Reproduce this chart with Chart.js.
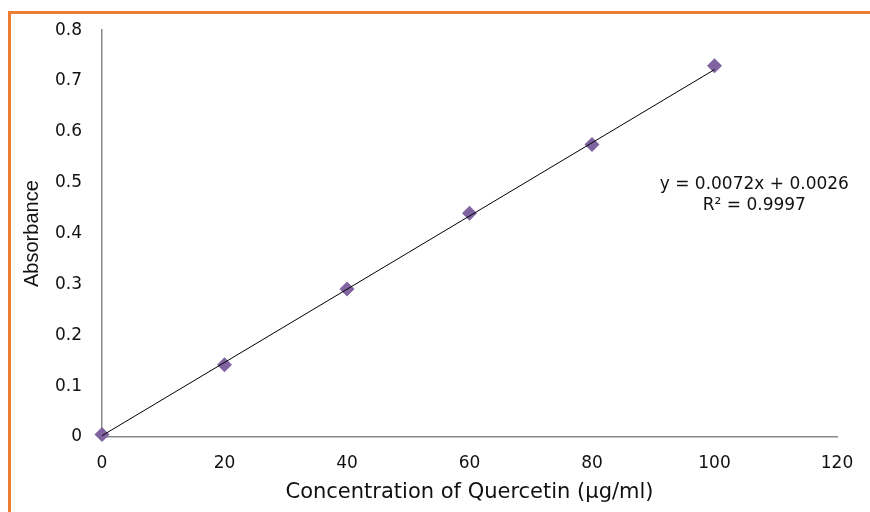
<!DOCTYPE html>
<html lang="en">
<head>
    <meta charset="UTF-8">
    <title>Quercetin Calibration Curve</title>
    <script src="https://cdn.jsdelivr.net/npm/chart.js"></script>
    <style>
        html, body {
            margin: 0;
            padding: 0;
            background: #fff;
        }
        .frame {
            position: relative;
            width: 870px;
            height: 512px;
            overflow: hidden;
        }
        .frame::before {
            content: '';
            position: absolute;
            left: 8px;
            top: 11px;
            right: -10px;
            bottom: -10px;
            border-top: 3px solid #ED7D31;
            border-left: 3px solid #ED7D31;
        }
        canvas {
            position: absolute;
            left: 0;
            top: 0;
        }
    </style>
</head>
<body>
    <div class="frame">
        <canvas id="calChart" width="870" height="512"></canvas>
    </div>

    <script>
        // Data
        const concentrations = [0, 20, 40, 60, 80, 100];
        const absorbances = [0.005, 0.142, 0.291, 0.440, 0.575, 0.730];

        // Linear trendline ends (y = 0.0072x + 0.0026)
        const trendX = [0, 100];
        const trendY = [0.0026, 0.7226];

        const equationLines = ['y = 0.0072x + 0.0026', 'R\u00B2 = 0.9997'];

        const xTitle = 'Concentration of Quercetin (\u00B5g/ml)';
        const yTitle = 'Absorbance';

        const tickFont = { family: 'DejaVu Sans', size: 17 };

        // Writes the regression equation next to the line
        const equationPlugin = {
            id: 'equation',
            afterDatasetsDraw(chart) {
                const { ctx, scales } = chart;
                const cx = scales.x.getPixelForValue(106.5);
                const cy = scales.y.getPixelForValue(0.497);
                ctx.save();
                ctx.font = '17px "DejaVu Sans"';
                ctx.fillStyle = '#111';
                ctx.textAlign = 'center';
                ctx.textBaseline = 'middle';
                equationLines.forEach((line, i) => ctx.fillText(line, cx, cy + i * 21));
                ctx.restore();
            }
        };

        const ctx = document.getElementById('calChart').getContext('2d');
        new Chart(ctx, {
            type: 'scatter',
            data: {
                datasets: [
                    {
                        label: 'Trendline',
                        data: trendX.map((x, i) => ({ x, y: trendY[i] })),
                        showLine: true,
                        borderColor: '#000',
                        borderWidth: 1,
                        pointRadius: 0,
                        clip: false
                    },
                    {
                        label: 'Absorbance',
                        data: concentrations.map((x, i) => ({ x, y: absorbances[i] })),
                        pointStyle: 'rectRot',
                        pointRadius: 7.5,
                        backgroundColor: '#8064A2',
                        borderColor: '#8064A2',
                        borderWidth: 0,
                        clip: false
                    }
                ]
            },
            options: {
                responsive: false,
                animation: false,
                layout: {
                    padding: { top: 29, right: 33, left: 0, bottom: 0 }
                },
                plugins: {
                    legend: { display: false },
                    tooltip: { enabled: false }
                },
                scales: {
                    x: {
                        type: 'linear',
                        min: 0,
                        max: 120,
                        ticks: { stepSize: 20, color: '#111', font: tickFont, padding: 16 },
                        grid: { display: false, drawTicks: false },
                        border: { color: '#8a8a8a', width: 1.5 },
                        title: {
                            display: true,
                            text: xTitle,
                            color: '#111',
                            font: { family: 'DejaVu Sans', size: 21 },
                            padding: { top: 0, bottom: 7 }
                        },
                        afterFit(scale) { scale.height = 75; }
                    },
                    y: {
                        type: 'linear',
                        min: 0,
                        max: 0.8,
                        ticks: { stepSize: 0.1, color: '#111', font: tickFont, padding: 20 },
                        grid: { display: false, drawTicks: false },
                        border: { color: '#8a8a8a', width: 1.5 },
                        title: {
                            display: true,
                            text: yTitle,
                            color: '#111',
                            font: { family: 'Liberation Sans', size: 20 },
                            padding: { top: 20, bottom: 0 }
                        },
                        afterFit(scale) { scale.width = 102; }
                    }
                }
            },
            plugins: [equationPlugin]
        });
    </script>
</body>
</html>
